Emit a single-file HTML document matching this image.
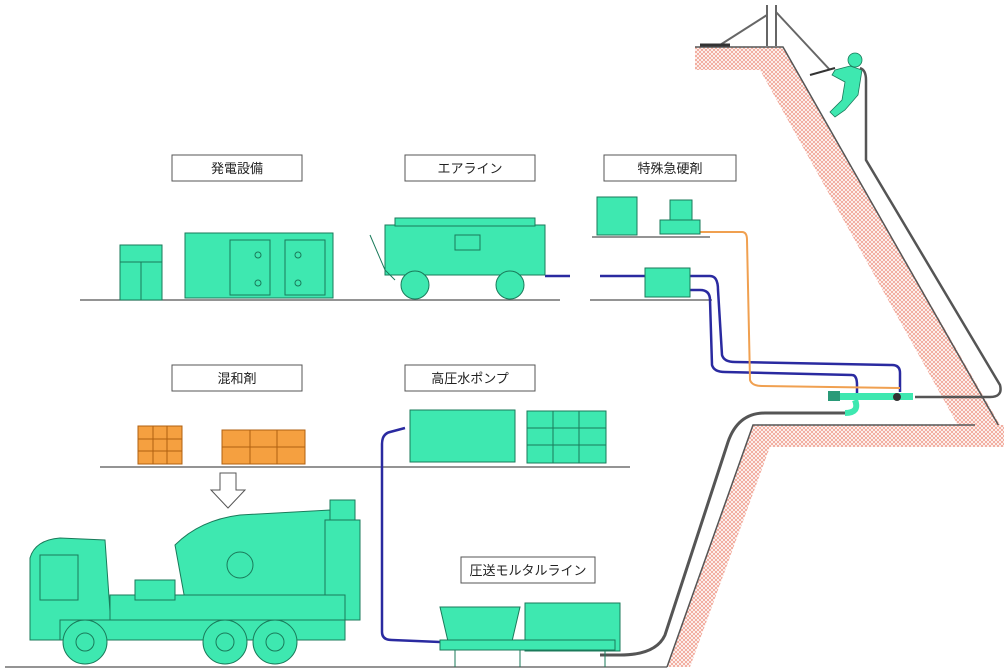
<!DOCTYPE html>
<html><head><meta charset="utf-8"><style>
html,body{margin:0;padding:0;background:#fff;}
svg{display:block;}
text{font-family:"Liberation Sans","Noto Sans CJK JP",sans-serif;font-size:13px;fill:#222;}
</style></head><body>
<svg width="1004" height="672" viewBox="0 0 1004 672" xmlns="http://www.w3.org/2000/svg">
<defs>
<pattern id="h" width="4" height="4" patternUnits="userSpaceOnUse">
<rect width="4" height="4" fill="#fff"/>
<path d="M0 4L4 0M0 0L4 4" stroke="#f0a090" stroke-width="0.8"/>
</pattern>
</defs>
<polygon points="695,47 783,47 1004,432 1004,447 970,447 760,70 695,70" fill="url(#h)"/>
<polyline points="695,47 783,47 1004,435" fill="none" stroke="#555" stroke-width="1.5"/>
<polygon points="753,425 1004,425 1004,447 770,447 690,667 667,667" fill="url(#h)"/>
<polyline points="975,425 753,425 667,667" fill="none" stroke="#555" stroke-width="1.5"/>
<g stroke="#666" stroke-width="2" fill="none">
<line x1="767" y1="5" x2="767" y2="46"/><line x1="776" y1="5" x2="776" y2="46"/>
<line x1="720" y1="45" x2="767" y2="15"/><line x1="776" y1="12" x2="830" y2="70"/>
<line x1="700" y1="45" x2="730" y2="45" stroke="#333" stroke-width="3"/>
</g>
<g fill="#3ee8b0" stroke="#1a7a5a" stroke-width="0.8">
<circle cx="855" cy="60" r="7"/>
<path d="M850 66 L862 70 L858 95 L845 110 L835 117 L830 112 L842 100 L845 82 L832 75 L835 70 Z"/>
</g>
<line x1="810" y1="75" x2="835" y2="68" stroke="#333" stroke-width="2"/>
<path d="M860 68 Q866 70 866 80 L866 160 L1000 385 Q1003 397 990 397 L915 397" fill="none" stroke="#555" stroke-width="2.5"/>
<path d="M853 413 L765 413 Q738 413 728 442 L665 635 Q656 655 620 655 L600 655" fill="none" stroke="#555" stroke-width="3"/>
<rect x="833" y="393" width="80" height="7" fill="#3ee8b0"/>
<rect x="828" y="391" width="12" height="10" fill="#2a9a78"/>
<path d="M855 400 Q860 413 845 413" fill="none" stroke="#3ee8b0" stroke-width="6"/>
<circle cx="897" cy="397" r="4" fill="#333"/>
<g stroke="#555" stroke-width="1.3">
<line x1="80" y1="300" x2="560" y2="300"/><line x1="590" y1="300" x2="712" y2="300"/>
<line x1="100" y1="467" x2="630" y2="467"/>
<line x1="5" y1="667" x2="667" y2="667"/>
<line x1="592" y1="237" x2="710" y2="237"/>
</g>
<g fill="#fff" stroke="#555">
<rect x="172" y="155" width="130" height="26"/><rect x="405" y="155" width="130" height="26"/>
<rect x="604" y="155" width="132" height="26"/><rect x="172" y="365" width="130" height="26"/>
<rect x="405" y="365" width="130" height="26"/><rect x="461" y="557" width="134" height="26"/>
</g>
<text x="237" y="173" text-anchor="middle">発電設備</text>
<text x="470" y="173" text-anchor="middle">エアライン</text>
<text x="670" y="173" text-anchor="middle">特殊急硬剤</text>
<text x="237" y="383" text-anchor="middle">混和剤</text>
<text x="470" y="383" text-anchor="middle">高圧水ポンプ</text>
<text x="528" y="575" text-anchor="middle">圧送モルタルライン</text>
<g fill="none" stroke-width="2.5">
<path d="M545 276 L570 276 M600 276 L650 276" stroke="#2a2aa0"/>
<path d="M690 276 L710 276 Q718 276 718 290 L722 355 Q724 362 735 362 L892 365 Q900 365 900 373 L900 392" stroke="#2a2aa0"/>
<path d="M690 290 L700 290 Q710 290 710 300 L712 365 Q714 372 725 372 L852 375 Q857 375 857 385 L857 393" stroke="#2a2aa0"/>
<path d="M700 232 L742 232 Q747 232 747 240 L750 380 Q752 386 762 386 L900 388" stroke="#f0a050" stroke-width="2"/>
<path d="M405 428 L390 432 Q382 434 382 444 L382 632 Q382 640 392 640 L440 642" stroke="#2a2aa0"/>
</g>
<g fill="#3ee8b0" stroke="#1a7a5a" stroke-width="1">
<rect x="120" y="245" width="42" height="55"/>
<line x1="120" y1="262" x2="162" y2="262"/><line x1="141" y1="262" x2="141" y2="300"/>
<rect x="185" y="233" width="148" height="65"/>
<rect x="230" y="240" width="40" height="55" fill="none"/><rect x="285" y="240" width="40" height="55" fill="none"/>
<circle cx="258" cy="255" r="3" fill="none"/><circle cx="258" cy="283" r="3" fill="none"/>
<circle cx="298" cy="255" r="3" fill="none"/><circle cx="298" cy="283" r="3" fill="none"/>
<path d="M385 225 L545 225 L545 275 L385 275 Z"/>
<rect x="395" y="218" width="140" height="8"/>
<rect x="455" y="235" width="25" height="15" fill="none"/>
<path d="M370 235 L385 270 L395 280" fill="none"/>
<circle cx="415" cy="285" r="14"/><circle cx="510" cy="285" r="14"/>
<rect x="597" y="197" width="40" height="38"/>
<rect x="670" y="200" width="22" height="22"/><rect x="660" y="220" width="40" height="14"/>
<rect x="645" y="268" width="45" height="29"/>
<rect x="410" y="410" width="105" height="52"/>
<rect x="527" y="411" width="79" height="52"/>
<line x1="527" y1="428" x2="606" y2="428"/><line x1="527" y1="445" x2="606" y2="445"/>
<line x1="553" y1="411" x2="553" y2="463"/><line x1="579" y1="411" x2="579" y2="463"/>
<path d="M440 607 L520 607 L510 650 L450 650 Z"/>
<rect x="525" y="603" width="95" height="48"/>
<rect x="440" y="640" width="175" height="10"/>
<line x1="455" y1="650" x2="455" y2="667"/><line x1="520" y1="650" x2="520" y2="667"/><line x1="605" y1="650" x2="605" y2="667"/>
<path d="M30 558 Q35 540 60 538 L105 540 L112 640 L30 640 Z"/>
<rect x="40" y="555" width="38" height="45" fill="none"/>
<path d="M175 545 Q200 520 240 515 L330 510 L330 600 L255 610 L185 600 Z"/>
<circle cx="240" cy="565" r="13" fill="none"/>
<rect x="325" y="520" width="35" height="100"/>
<rect x="330" y="500" width="25" height="20"/>
<rect x="110" y="595" width="235" height="30"/>
<rect x="135" y="580" width="40" height="20"/>
<rect x="60" y="620" width="285" height="20"/>
<circle cx="85" cy="642" r="22"/><circle cx="225" cy="642" r="22"/><circle cx="275" cy="642" r="22"/>
<circle cx="85" cy="642" r="9" fill="none"/><circle cx="225" cy="642" r="9" fill="none"/><circle cx="275" cy="642" r="9" fill="none"/>
</g>
<g fill="#f5a040" stroke="#b06010" stroke-width="1">
<rect x="138" y="426" width="44" height="38"/>
<line x1="153" y1="426" x2="153" y2="464"/><line x1="167" y1="426" x2="167" y2="464"/>
<line x1="138" y1="439" x2="182" y2="439"/><line x1="138" y1="451" x2="182" y2="451"/>
<rect x="222" y="430" width="83" height="34"/>
<line x1="250" y1="430" x2="250" y2="464"/><line x1="277" y1="430" x2="277" y2="464"/>
<line x1="222" y1="447" x2="305" y2="447"/>
</g>
<path d="M220 473 L236 473 L236 490 L245 490 L228 508 L211 490 L220 490 Z" fill="#fff" stroke="#555"/>
</svg>
</body></html>
